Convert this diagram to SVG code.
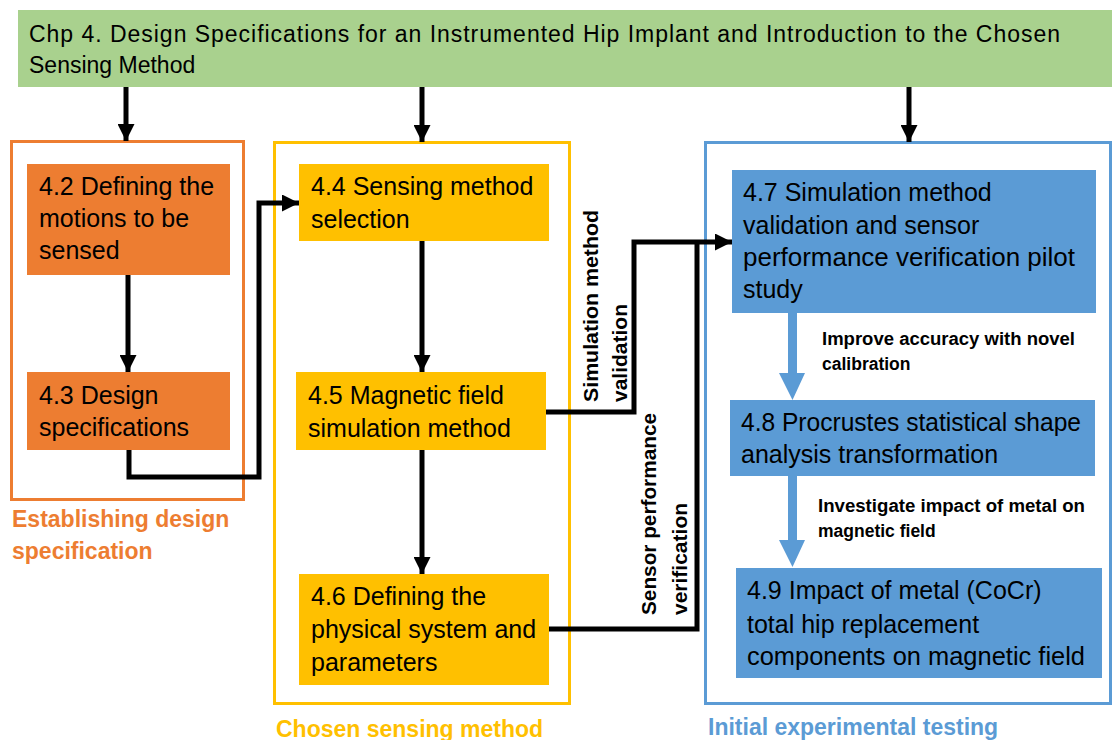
<svg xmlns="http://www.w3.org/2000/svg" width="1112" height="740" viewBox="0 0 1112 740">
<defs>
<marker id="ah" viewBox="0 0 10 10" refX="10" refY="5" markerWidth="3.4" markerHeight="3.4" markerUnits="strokeWidth" orient="auto">
<path d="M0,0 L10,5 L0,10 z" fill="#000"/>
</marker>
</defs>
<style>
text{font-family:"Liberation Sans",Arial,sans-serif;}
.nt{font-size:25px;fill:#000;}
.tt{font-size:23px;fill:#000;}
.lb{font-size:17.5px;font-weight:bold;fill:#000;}
.rl{font-size:21px;font-weight:bold;fill:#000;}
.gl{font-size:23px;font-weight:bold;}
.cn{fill:none;stroke:#000;stroke-width:5;}
.ca{fill:none;stroke:#000;stroke-width:5;marker-end:url(#ah);}
.ctr{fill:none;stroke-width:3;}
</style>
<rect width="1112" height="740" fill="#fff"/>

<g id="title">
<rect x="18" y="10" width="1094" height="77" fill="#A9D18E"/>
<text class="tt" x="29" y="42" textLength="1031" lengthAdjust="spacing">Chp 4. Design Specifications for an Instrumented Hip Implant and Introduction to the Chosen</text>
<text class="tt" x="29" y="73">Sensing Method</text>
</g>

<g id="group-establishing">
<rect class="ctr" x="11.5" y="141.5" width="232" height="358" stroke="#ED7D31"/>
<text class="gl" x="12" y="527" fill="#ED7D31">Establishing design</text>
<text class="gl" x="12" y="559" fill="#ED7D31">specification</text>
</g>

<g id="group-chosen">
<rect class="ctr" x="274.5" y="142.5" width="295" height="561" stroke="#FFC000"/>
<text class="gl" x="276" y="737" fill="#FFC000">Chosen sensing method</text>
</g>

<g id="group-initial">
<rect class="ctr" x="705.5" y="142.5" width="405" height="561" stroke="#5B9BD5"/>
<text class="gl" x="708" y="735" fill="#5B9BD5">Initial experimental testing</text>
</g>

<g id="n42">
<rect x="27" y="164" width="203" height="111" fill="#ED7D31"/>
<text class="nt" x="39" y="195">4.2 Defining the</text>
<text class="nt" x="39" y="227">motions to be</text>
<text class="nt" x="39" y="259">sensed</text>
</g>

<g id="n43">
<rect x="27" y="372" width="203" height="78" fill="#ED7D31"/>
<text class="nt" x="39" y="404">4.3 Design</text>
<text class="nt" x="39" y="436">specifications</text>
</g>

<g id="n44">
<rect x="299" y="164" width="250" height="77" fill="#FFC000"/>
<text class="nt" x="311" y="195">4.4 Sensing method</text>
<text class="nt" x="311" y="228">selection</text>
</g>

<g id="n45">
<rect x="296" y="372" width="250" height="78" fill="#FFC000"/>
<text class="nt" x="308" y="404">4.5 Magnetic field</text>
<text class="nt" x="308" y="437">simulation method</text>
</g>

<g id="n46">
<rect x="299" y="574" width="250" height="111" fill="#FFC000"/>
<text class="nt" x="311" y="605">4.6 Defining the</text>
<text class="nt" x="311" y="638">physical system and</text>
<text class="nt" x="311" y="671">parameters</text>
</g>

<g id="n47">
<rect x="732" y="170" width="364" height="143" fill="#5B9BD5"/>
<text class="nt" x="743" y="201">4.7 Simulation method</text>
<text class="nt" x="743" y="234">validation and sensor</text>
<text class="nt" x="743" y="266" textLength="332" lengthAdjust="spacingAndGlyphs">performance verification pilot</text>
<text class="nt" x="743" y="298">study</text>
</g>

<g id="n48">
<rect x="730" y="400" width="365" height="76" fill="#5B9BD5"/>
<text class="nt" x="741" y="431" textLength="340" lengthAdjust="spacingAndGlyphs">4.8 Procrustes statistical shape</text>
<text class="nt" x="741" y="463">analysis transformation</text>
</g>

<g id="n49">
<rect x="736" y="568" width="366" height="110" fill="#5B9BD5"/>
<text class="nt" x="747" y="599">4.9 Impact of metal (CoCr)</text>
<text class="nt" x="747" y="633">total hip replacement</text>
<text class="nt" x="747" y="665" textLength="338" lengthAdjust="spacingAndGlyphs">components on magnetic field</text>
</g>

<g id="connectors">
<path class="ca" d="M126 87 V141"/>
<path class="ca" d="M422 87 V142"/>
<path class="ca" d="M909 87 V142"/>
<path class="ca" d="M128 275 V372"/>
<path class="ca" d="M129 450 V477 H259 V203 H299"/>
<path class="ca" d="M422 241 V372"/>
<path class="ca" d="M422 450 V574"/>
<path class="ca" d="M546 412 H634 V242 H732"/>
<path class="cn" d="M549 629 H697 V242"/>
<path d="M788 313 H797 V373 H805 L792.5 400 L779 373 H788 Z" fill="#5B9BD5"/>
<path d="M788 476 H797 V540 H805 L792.5 567 L779 540 H788 Z" fill="#5B9BD5"/>
<text class="lb" x="822" y="345" textLength="253" lengthAdjust="spacingAndGlyphs">Improve accuracy with novel</text>
<text class="lb" x="822" y="370">calibration</text>
<text class="lb" x="818" y="512" textLength="267" lengthAdjust="spacingAndGlyphs">Investigate impact of metal on</text>
<text class="lb" x="818" y="537">magnetic field</text>
<text class="rl" transform="translate(598 402) rotate(-90)" textLength="192" lengthAdjust="spacingAndGlyphs">Simulation method</text>
<text class="rl" transform="translate(627 402) rotate(-90)">validation</text>
<text class="rl" transform="translate(656 615) rotate(-90)" textLength="202" lengthAdjust="spacingAndGlyphs">Sensor performance</text>
<text class="rl" transform="translate(687 615) rotate(-90)">verification</text>
</g>
</svg>
